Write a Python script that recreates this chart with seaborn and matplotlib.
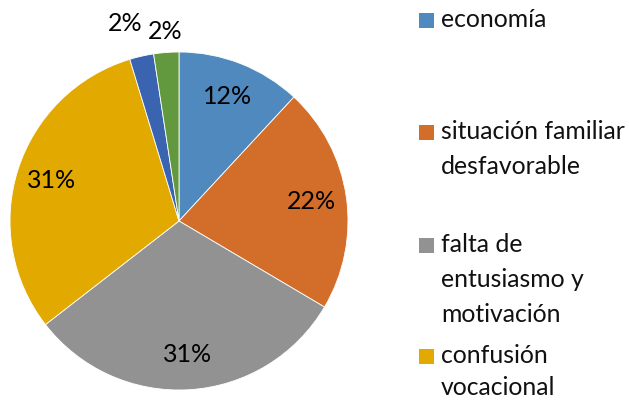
import numpy as np
import matplotlib
matplotlib.use("Agg")
import matplotlib.pyplot as plt
from matplotlib.patches import Rectangle
import seaborn as sns

sns.set_theme(style="white")
plt.rcParams["font.family"] = ["Lato", "DejaVu Sans"]

# data (percent shares)
categories = [
    "economía",
    "situación familiar\ndesfavorable",
    "falta de\nentusiasmo y\nmotivación",
    "confusión\nvocacional",
    "otro 1",
    "otro 2",
]
values = [11.9, 21.6, 31.0, 30.8, 2.3, 2.4]
legend_shown = 4  # only the first four entries fit in the legend
colors = ["#4F89BE", "#D26D2A", "#929292", "#E2A900", "#3A64AF", "#62993E"]

W, H = 629, 400
fig = plt.figure(figsize=(W / 100, H / 100), dpi=100)

cx, cy, r = 179, 221, 169
ax = fig.add_axes([(cx - r) / W, (H - cy - r) / H, 2 * r / W, 2 * r / H])
ax.set_aspect("equal")

wedges, texts, autotexts = ax.pie(
    values, colors=colors, startangle=90, counterclock=False,
    autopct="%1.0f%%", pctdistance=0.79, radius=1.0,
    wedgeprops={"edgecolor": "white", "linewidth": 0.6},
    textprops={"fontsize": 18, "color": "black"},
)
ax.set_xlim(-1.0, 1.0)
ax.set_ylim(-1.0, 1.0)

# small slices get their labels outside the pie
autotexts[4].set_position((-0.32, 1.17))
autotexts[5].set_position((-0.08, 1.12))

# legend on the right, one block per category
top_px = [13, 125, 238, 349]
spacing = [1.62, 1.62, 1.62, 1.45]
for i in range(legend_shown):
    y = top_px[i]
    fig.patches.append(Rectangle((419 / W, 1 - (y + 15) / H), 15 / W, 15 / H,
                                 transform=fig.transFigure, facecolor=colors[i],
                                 edgecolor="none"))
    fig.text(441 / W, 1 - (y - 5) / H, categories[i], fontsize=17.8,
             va="top", ha="left", linespacing=spacing[i], color="#111111")

fig.savefig("out.png", dpi=100)
